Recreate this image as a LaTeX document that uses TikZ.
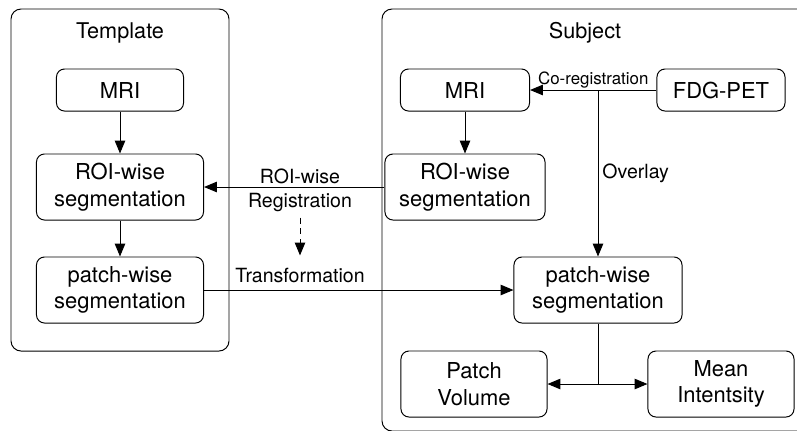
\documentclass[tikz,border=0pt]{standalone}
\usepackage{fontspec}
\setmainfont{TeX Gyre Heros}
\usetikzlibrary{positioning, calc, arrows.meta}
\tikzstyle{Arrow} = [
%Filled triangle head, as in the flow chart:
line width=0.7pt,
-{Triangle[length=3.2mm, width=2.6mm]}
]

\begin{document}
\begin{tikzpicture}[x=0.025cm, y=-0.025cm,
				block/.style = {rectangle, rounded corners=0.2cm, draw, line width=0.7pt, align=center, font=\fontsize{15.6}{18.9}\selectfont, minimum height=1.65cm},
				small/.style = {block, minimum height=1.05cm},
				group/.style = {rounded corners=0.25cm, draw, line width=0.7pt},
				title/.style = {anchor=base, font=\fontsize{15.4}{18}\selectfont},
				elabel/.style = {align=center, inner sep=0.15cm, font=\fontsize{13.9}{17}\selectfont},
			]
			\useasboundingbox (0,0) rectangle (797,430);
			\clip (0,0) rectangle (797,430);

			% the two groups
			\draw[group] (11,9) rectangle (229,351);
			\draw[group] (382,9) rectangle (840,431);
			\node[title](Temp) at (120,38){Template};
			\node[title](Subj) at (585,38){Subject};

			% template side
			\node[small, minimum width=3.175cm](tMRI) at (120,90){MRI};
			\node[block, minimum width=4.175cm](tROI) at (120,187){ROI-wise\\segmentation};
			\node[block, minimum width=4.175cm](tPatch) at (120,290){patch-wise\\segmentation};

			% subject side
			\node[small, minimum width=3.225cm](sMRI) at (465,90){MRI};
			\node[small, minimum width=3.2cm](PET) at (721,90){FDG-PET};
			\node[block, minimum width=4cm](sROI) at (465,187){ROI-wise\\segmentation};
			\node[block, minimum width=4.2cm](sPatch) at (598,290){patch-wise\\segmentation};
			\node[block, minimum width=3.65cm](PV) at (474,384){Patch\\Volume};
			\node[block, minimum width=3.65cm](MI) at (721,384){Mean\\Intentsity};

			% labels between the groups
			\node[elabel](Reg) at (300,190){ROI-wise\\Registration};
			\node[elabel, anchor=base](Trans) at (300,282){Transformation};

			\coordinate(ov) at (sPatch.north |- sMRI.east);
			\coordinate(br) at (sPatch.south |- PV.east);

			\draw[Arrow](tMRI)--(tROI);
			\draw[Arrow](tROI)--(tPatch);
			\draw[Arrow](sMRI)--(sROI);
			\draw[Arrow](PET.west)--node[midway, above, inner sep=1pt, font=\fontsize{12}{14}\selectfont] {Co-registration}(sMRI.east);
			\draw[Arrow](ov)--node[midway, right, elabel, inner sep=0.1cm] {Overlay}(sPatch.north);
			\draw[Arrow](sROI.west)--(tROI.east);
			\draw[Arrow, dash pattern=on 0.15cm off 0.12cm, shorten >=0.15cm](Reg.south)--(Trans.north);
			\draw[Arrow](tPatch.east)--(sPatch.west);
			\draw[line width=0.7pt](sPatch.south)--(br);
			\draw[Arrow](br)--(PV.east);
			\draw[Arrow](br)--(MI.west);

		\end{tikzpicture}
\end{document}
